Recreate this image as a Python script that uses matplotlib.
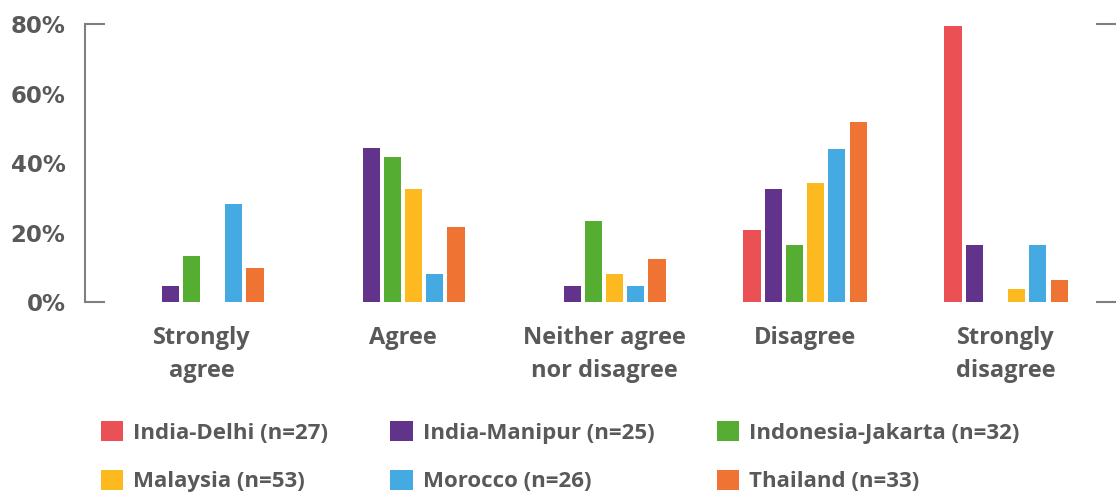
import numpy as np
import matplotlib
matplotlib.use("Agg")
import matplotlib.pyplot as plt

# Categories and series (percent of respondents)
categories = ["Strongly\nagree", "Agree", "Neither agree\nnor disagree", "Disagree", "Strongly\ndisagree"]
series = ["India-Delhi (n=27)", "India-Manipur (n=25)", "Indonesia-Jakarta (n=32)",
          "Malaysia (n=53)", "Morocco (n=26)", "Thailand (n=33)"]
delhi = [0, 0, 0, 20.7, 79.4]
manipur = [4.6, 44.3, 4.6, 32.5, 16.4]
jakarta = [13.2, 41.7, 23.3, 16.4, 0]
malaysia = [0, 32.5, 8.1, 34.2, 3.7]
morocco = [28.2, 8.1, 4.6, 44.0, 16.4]
thailand = [9.8, 21.6, 12.4, 51.8, 6.3]
yticks = [0, 20, 40, 60, 80]

colors = ["#EB5055", "#61338B", "#55AE31", "#FCBA20", "#45AAE2", "#EF7332"]
TXT = "#595959"
LBLFONT = "Open Sans"

values = [delhi, manipur, jakarta, malaysia, morocco, thailand]
x = np.arange(len(categories))
slot = 0.1055
width = 0.085

fig = plt.figure(figsize=(11.16, 4.94), dpi=100)
ax = fig.add_axes([85 / 1116, 192 / 494, 1 - 85 / 1116, 278 / 494])

bars = []
for i, (name, vals) in enumerate(zip(series, values)):
    bars.append(ax.bar(x + (i - 2.5) * slot, vals, width, color=colors[i], label=name))

ax.set_xlim(-0.582, 4.547)
ax.set_ylim(0, 80)

for s in ["top", "right", "bottom"]:
    ax.spines[s].set_visible(False)
ax.spines["left"].set_color("#7f7f7f")
ax.spines["left"].set_linewidth(1.5)

ax.set_yticks(yticks)
ax.set_yticklabels([f"{v}%" for v in yticks], fontsize=16.5, fontweight="bold",
                   color=TXT, family="DejaVu Sans")
ax.tick_params(axis="y", which="major", length=0, pad=14)
# short caps at 0% and 80%, both sides
ax.yaxis.remove_overlapping_locs = False
ax.set_yticks([0, 80], minor=True)
ax.tick_params(axis="y", which="minor", direction="in", length=14.5, width=1.5,
               color="#7f7f7f", left=True, right=True)

ax.set_xticks(x)
ax.set_xticklabels(categories, fontsize=17, fontweight="bold", color=TXT,
                   family=LBLFONT, linespacing=1.5)
ax.tick_params(axis="x", length=0, pad=17)

# legend filled row by row
order = [0, 3, 1, 4, 2, 5]
fig.legend([bars[i] for i in order], [series[i] for i in order],
           loc="upper left", bbox_to_anchor=(101 / 1116, 1 - 421 / 494), ncol=3,
           frameon=False, prop={"family": LBLFONT, "weight": "bold", "size": 16},
           labelcolor=TXT, handlelength=1.0, handleheight=1.0, handletextpad=0.45,
           columnspacing=2.8, labelspacing=1.18, borderaxespad=0, borderpad=0)

fig.savefig("out.png", dpi=100)
